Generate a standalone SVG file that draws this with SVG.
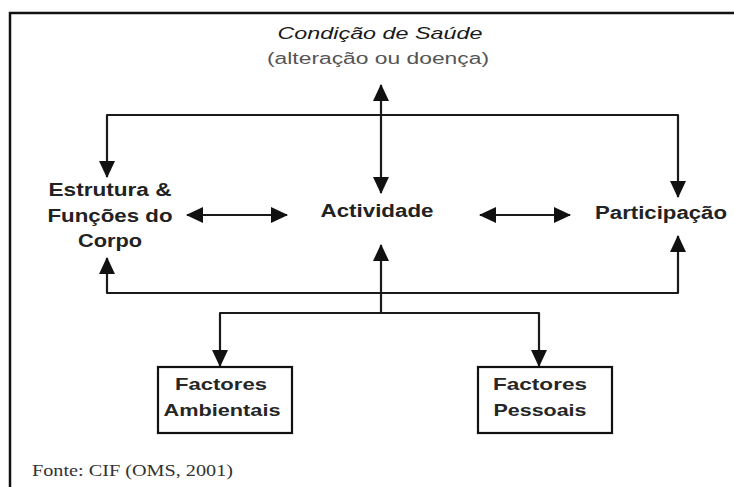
<svg xmlns="http://www.w3.org/2000/svg" width="734" height="487" viewBox="0 0 734 487">
<defs>
<style>
.frame{fill:none;stroke:#111;stroke-width:2.5}
.conn{fill:none;stroke:#1a1a1a;stroke-width:2.2;stroke-linejoin:round}
.arr{marker-end:url(#ah)}
.dbl{marker-start:url(#ah);marker-end:url(#ah)}
.lbl{font-family:"Liberation Sans",Arial,sans-serif;font-weight:bold;font-size:18px;fill:#222;text-anchor:middle}
.box{fill:#fff;stroke:#111;stroke-width:2.2}
.bt{font-family:"Liberation Sans",Arial,sans-serif;font-weight:bold;font-size:17px;fill:#262626;text-anchor:middle}
</style>
<marker id="ah" markerUnits="userSpaceOnUse" markerWidth="17" markerHeight="16" refX="16" refY="8" orient="auto-start-reverse" viewBox="0 0 17 16">
<path d="M0,0 L17,8 L0,16 z" fill="#111"/>
</marker>
</defs>
<rect width="734" height="487" fill="#fff"/>
<path class="frame" d="M10,487 V13 H734"/>

<g id="condicao">
<text x="380" y="39" font-family="'Liberation Sans',Arial,sans-serif" font-style="italic" font-size="17" fill="#1a1a1a" text-anchor="middle" textLength="205" lengthAdjust="spacingAndGlyphs">Condição de Saúde</text>
<text x="378" y="64" font-family="'Liberation Sans',Arial,sans-serif" font-size="16" fill="#555" text-anchor="middle" textLength="222" lengthAdjust="spacingAndGlyphs">(alteração ou doença)</text>
</g>

<g id="estrutura">
<text class="lbl" x="110" y="196" textLength="123" lengthAdjust="spacingAndGlyphs">Estrutura &amp;</text>
<text class="lbl" x="110" y="222" textLength="125" lengthAdjust="spacingAndGlyphs">Funções do</text>
<text class="lbl" x="110" y="247" textLength="64" lengthAdjust="spacingAndGlyphs">Corpo</text>
</g>

<g id="actividade">
<text class="lbl" x="377" y="217" textLength="113" lengthAdjust="spacingAndGlyphs">Actividade</text>
</g>

<g id="participacao">
<text class="lbl" x="661" y="219" textLength="132" lengthAdjust="spacingAndGlyphs">Participação</text>
</g>

<g id="ambientais">
<rect class="box" x="158" y="367" width="134" height="66"/>
<text class="bt" x="221" y="390" textLength="92" lengthAdjust="spacingAndGlyphs">Factores</text>
<text class="bt" x="222" y="416" textLength="117" lengthAdjust="spacingAndGlyphs">Ambientais</text>
</g>

<g id="pessoais">
<rect class="box" x="478" y="367" width="134" height="66"/>
<text class="bt" x="540" y="390" textLength="94" lengthAdjust="spacingAndGlyphs">Factores</text>
<text class="bt" x="540" y="416" textLength="93" lengthAdjust="spacingAndGlyphs">Pessoais</text>
</g>

<g id="connectors">
<line class="conn dbl" x1="381" y1="85" x2="381" y2="193"/>
<path class="conn arr" d="M381,115 H107 V177"/>
<path class="conn arr" d="M381,115 H678 V197"/>
<line class="conn dbl" x1="187" y1="215" x2="287" y2="215"/>
<line class="conn dbl" x1="480" y1="215" x2="570" y2="215"/>
<line class="conn arr" x1="381" y1="313" x2="381" y2="245"/>
<path class="conn arr" d="M381,293 H107 V258"/>
<path class="conn arr" d="M381,293 H678 V236"/>
<path class="conn arr" d="M381,313 H220 V366"/>
<path class="conn arr" d="M381,313 H539 V366"/>
</g>

<text x="32" y="476" font-family="'Liberation Serif','Times New Roman',serif" font-size="17" fill="#333" textLength="201" lengthAdjust="spacingAndGlyphs">Fonte: CIF (OMS, 2001)</text>
</svg>
